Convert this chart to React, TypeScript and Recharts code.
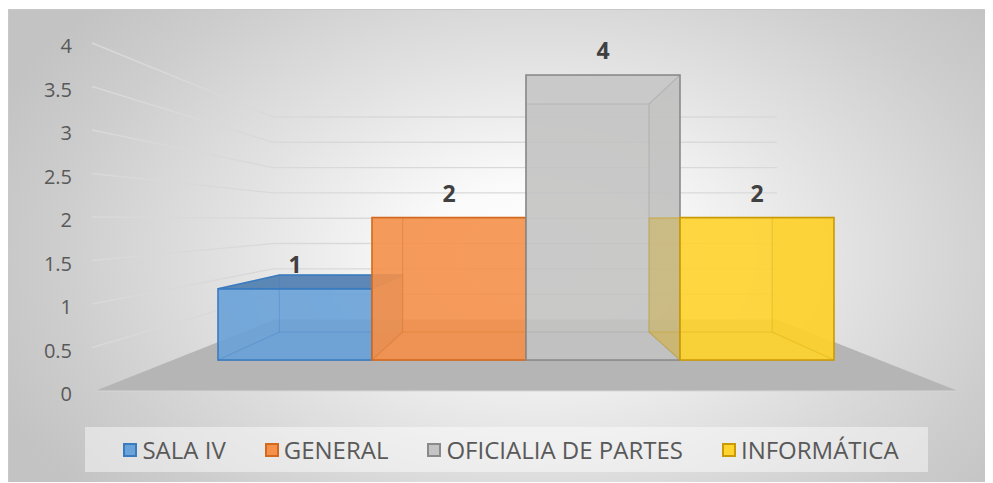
import React from "react";
import { BarChart, Bar, XAxis, YAxis, CartesianGrid, Legend } from "recharts";

// ---------- data ----------
const categories = ["Áreas"];
const seriesNames = ["SALA IV", "GENERAL", "OFICIALIA DE PARTES", "INFORMÁTICA"];
const seriesValues = [1, 2, 4, 2];
const yTicks = [0, 0.5, 1, 1.5, 2, 2.5, 3, 3.5, 4];

// ---------- styles ----------
const fillColors = ["#6AA3D9", "#F5914A", "#C4C4C4", "#FFD42E"];
const edgeColors = ["#3A7BBF", "#D2691E", "#8A8A8A", "#C99A06"];
const shadeColors = ["#5583B3", "#C7713A", "#A3A296", "#D9AC12"];
const FONT = "'Open Sans', 'DejaVu Sans', sans-serif";

// ---------- layout ----------
const CHART_W = 985;
const CHART_H = 474;
const MARGIN = { top: 34, right: 35, bottom: 11, left: 0 };
const Y_AXIS_W = 84;
const X_AXIS_H = 36;
const LEGEND_H = 45;
const PLOT_LEFT = MARGIN.left + Y_AXIS_W;
const PLOT_RIGHT = CHART_W - MARGIN.right;
const PLOT_TOP = MARGIN.top;
const PLOT_BOTTOM = CHART_H - MARGIN.bottom - LEGEND_H - X_AXIS_H;
const WALL_MAX = 4;
const UNIT = (PLOT_BOTTOM - PLOT_TOP) / WALL_MAX;
const TICK_GAP = 20;

// perspective
const HORIZON = 1.966; // eye level, in wall units
const VP_X = (PLOT_LEFT + PLOT_RIGHT) / 2;
const VP_Y = PLOT_BOTTOM - HORIZON * UNIT;
const BACK_WALL_DEPTH = 0.582;
const FRONT_DEPTH = 0.819;
const BOX_DEPTH = 0.8;

const barDomain = [
  (-HORIZON * (1 - FRONT_DEPTH)) / FRONT_DEPTH,
  (WALL_MAX - HORIZON * (1 - FRONT_DEPTH)) / FRONT_DEPTH,
];

const data = categories.map((name) => {
  const row: Record<string, any> = { name };
  seriesNames.forEach((s, i) => {
    row[s] = seriesValues[i];
  });
  return row;
});

const proj = (px: number, py: number, k: number) => [VP_X + (px - VP_X) * k, VP_Y + (py - VP_Y) * k];
const pts = (arr: number[][]) => arr.map((p) => `${p[0]},${p[1]}`).join(" ");

const WallTick = (props: any) => {
  const { y, payload } = props;
  return (
    <text
      x={PLOT_LEFT - TICK_GAP}
      y={y + 3}
      dy="0.36em"
      textAnchor="end"
      fill="#595959"
      fontSize={20}
      fontFamily={FONT}
    >
      {payload.value}
    </text>
  );
};

const wallLine = (props: any) => {
  const y = props.y1;
  const [bx0, by] = proj(PLOT_LEFT, y, BACK_WALL_DEPTH);
  const [bx1] = proj(PLOT_RIGHT, y, BACK_WALL_DEPTH);
  const isFloor = Math.abs(y - PLOT_BOTTOM) < 0.5;
  if (isFloor) {
    return (
      <g key={`wall-${props.index}`}>
        <polygon
          points={pts([
            [PLOT_LEFT + 3, y],
            [PLOT_RIGHT, y],
            [bx1, by],
            [bx0 + 2, by],
          ])}
          fill="#B5B5B5"
        />
        <line x1={PLOT_LEFT + 3} y1={y} x2={PLOT_RIGHT} y2={y} stroke="#D6D6D6" strokeWidth={1.2} />
      </g>
    );
  }
  return (
    <polyline
      key={`wall-${props.index}`}
      points={pts([
        [PLOT_LEFT, y],
        [bx0, by],
        [bx1, by],
      ])}
      fill="none"
      stroke="#D9D9D9"
      strokeWidth={1.4}
    />
  );
};

const makeBox = (i: number) => (props: any) => {
  const { x, y, width, height } = props;
  if (!width || height == null) return <g />;
  const x0 = x;
  const x1 = x + width;
  const y0 = y;
  const y1 = y + height;
  const A = [x0, y0];
  const B = [x1, y0];
  const C = [x1, y1];
  const D = [x0, y1];
  const A2 = proj(x0, y0, BOX_DEPTH);
  const B2 = proj(x1, y0, BOX_DEPTH);
  const C2 = proj(x1, y1, BOX_DEPTH);
  const D2 = proj(x0, y1, BOX_DEPTH);
  const topVisible = y0 > VP_Y + 1;
  return (
    <g>
      <polygon points={pts([A2, B2, C2, D2])} fill={shadeColors[i]} fillOpacity={0.2} />
      <polygon points={pts([D, C, C2, D2])} fill={shadeColors[i]} fillOpacity={0.3} />
      <polygon points={pts([A, A2, D2, D])} fill={shadeColors[i]} fillOpacity={0.2} />
      <polygon points={pts([B, B2, C2, C])} fill={shadeColors[i]} fillOpacity={0.45} />
      {!topVisible && <polygon points={pts([A, B, B2, A2])} fill="#FFFFFF" fillOpacity={0.25} />}
      <rect x={x0} y={y0} width={width} height={height} fill={fillColors[i]} fillOpacity={0.88} />
      {topVisible && <polygon points={pts([A, B, B2, A2])} fill={shadeColors[i]} fillOpacity={0.95} />}
      <g stroke={edgeColors[i]} strokeOpacity={0.3} strokeWidth={1.2} fill="none">
        <polygon points={pts([A2, B2, C2, D2])} />
        <line x1={A[0]} y1={A[1]} x2={A2[0]} y2={A2[1]} />
        <line x1={B[0]} y1={B[1]} x2={B2[0]} y2={B2[1]} />
        <line x1={C[0]} y1={C[1]} x2={C2[0]} y2={C2[1]} />
        <line x1={D[0]} y1={D[1]} x2={D2[0]} y2={D2[1]} />
      </g>
      {topVisible && (
        <polygon points={pts([A, B, B2, A2])} fill="none" stroke={edgeColors[i]} strokeWidth={1.5} />
      )}
      <rect x={x0} y={y0} width={width} height={height} fill="none" stroke={edgeColors[i]} strokeWidth={1.6} />
    </g>
  );
};

const renderValueLabel = (props: any) => {
  const { x, y, width, value } = props;
  return (
    <text
      x={x + width / 2}
      y={y - 24}
      dy="0.36em"
      textAnchor="middle"
      fill="#404040"
      fontSize={23}
      fontWeight={700}
      fontFamily={FONT}
    >
      {value}
    </text>
  );
};

const LegendContent = () => (
  <div
    style={{
      height: LEGEND_H,
      width: 843,
      background: "rgba(255,255,255,0.45)",
      display: "flex",
      alignItems: "center",
      justifyContent: "center",
      fontFamily: FONT,
      fontSize: 24,
      color: "#595959",
      lineHeight: 1,
      paddingLeft: 9,
      boxSizing: "border-box",
    }}
  >
    {seriesNames.map((n, i) => (
      <span
        key={n}
        style={{ display: "flex", alignItems: "center", marginRight: i < seriesNames.length - 1 ? 39 : 0 }}
      >
        <span
          style={{
            width: 10,
            height: 10,
            background: fillColors[i],
            border: `2px solid ${edgeColors[i]}`,
            marginRight: 5,
            display: "inline-block",
          }}
        />
        {n}
      </span>
    ))}
  </div>
);

export default function App() {
  return (
    <div
      style={{
        position: "relative",
        top: 1,
        width: CHART_W,
        height: CHART_H,
        background:
          "radial-gradient(ellipse 60% 80% at 54% 52%, #ffffff 0%, #fafafa 20%, #e2e2e2 52%, #cdcdcd 82%, #c3c3c3 100%)",
        boxShadow: "inset 1px 1px 0 #c8c8c8",
      }}
    >
      <BarChart width={CHART_W} height={CHART_H} data={data} margin={MARGIN} barGap={0} barCategoryGap={126}>
        <CartesianGrid yAxisId="wall" vertical={false} horizontal={wallLine} stroke="#D9D9D9" />
        <XAxis dataKey="name" height={X_AXIS_H} tick={false} axisLine={false} tickLine={false} />
        <YAxis
          yAxisId="wall"
          domain={[0, WALL_MAX]}
          ticks={yTicks}
          interval={0}
          allowDataOverflow
          width={Y_AXIS_W}
          axisLine={false}
          tickLine={false}
          tickSize={0}
          tickMargin={TICK_GAP}
          tick={<WallTick />}
        />
        <YAxis yAxisId="bars" domain={barDomain} allowDataOverflow hide />
        <Legend
          verticalAlign="bottom"
          align="left"
          width={843}
          height={LEGEND_H}
          wrapperStyle={{ left: 77, width: 843, height: LEGEND_H, padding: 0, margin: 0 }}
          content={<LegendContent />}
        />
        {seriesNames.map((s, i) => (
          <Bar
            key={s}
            dataKey={s}
            yAxisId="bars"
            fill={fillColors[i]}
            shape={makeBox(i)}
            label={renderValueLabel}
            isAnimationActive={false}
          />
        ))}
      </BarChart>
    </div>
  );
}
